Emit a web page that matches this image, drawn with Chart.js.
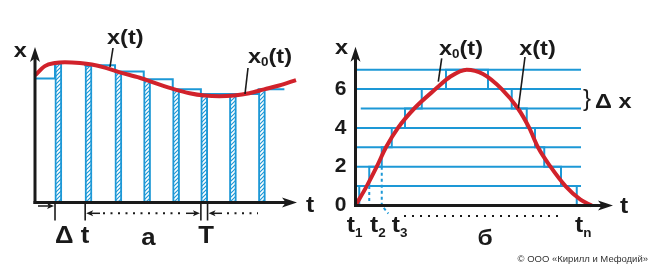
<!DOCTYPE html>
<html>
<head>
<meta charset="utf-8">
<script src="https://cdn.jsdelivr.net/npm/chart.js@4.4.1/dist/chart.umd.min.js"></script>
<style>
    html, body { margin: 0; background: #fff; }
    #wrap { position: relative; width: 654px; height: 269px; }
    #wrap canvas { position: absolute; left: 0; top: 0; }
</style>
</head>
<body>
<div id="wrap">
    <canvas id="chartA" width="654" height="269"></canvas>
    <canvas id="chartB" width="654" height="269"></canvas>
</div>
<script>
// --- panel а: sampling in time (pulse width dt, period T)
const sampleT = [6.9, 17.3, 27.6, 37.5, 47.5, 57.2, 67.1, 77.1];
const sampleX = [9.0, 8.85, 8.45, 7.95, 7.3, 7.0, 7.0, 7.3];
const pulseW = 2.3;
const holdStartX = 8.0;
const holdEndT = 86;
const curveAT = [0, 3.4, 6.9, 10.3, 15.5, 19.6, 24.1, 29.2, 36.1, 43, 48.1, 53.3, 58.4, 63.6, 68.7, 73.9, 79, 84.2, 90];
const curveAX = [8.2, 8.8, 9.0, 9.05, 9.0, 8.9, 8.7, 8.4, 8.05, 7.6, 7.3, 7.05, 6.9, 6.85, 6.9, 7.05, 7.3, 7.55, 7.9];

// --- panel б: quantization by level (step dx)
const levels = [1, 2, 3, 4, 5, 6, 7];
const levelStart = [0.5, 0.5, 0.5, 0.5, 2.1, 0.5, 0.5];
const levelEnd = 90.2;
const stairT = [0, 1.5, 5.5, 10.5, 14.5, 19.8, 26.5, 36.2, 53, 62.5, 68.5, 71.8, 75.5, 82.2, 88.5];
const stairX = [0, 1, 2, 3, 4, 5, 6, 7, 6, 5, 4, 3, 2, 1, 0];
const curveBT = [0, 4.5, 8.5, 12.2, 17, 23.5, 32, 38, 44.5, 51, 58.5, 65, 69.5, 73, 78, 84, 90, 94.5];
const curveBX = [0, 1, 2, 3, 4, 5, 6, 6.65, 7.0, 6.78, 6, 5, 4, 3, 2, 1, 0.3, 0];
const yTicksB = [0, 2, 4, 6];

const BLUE = '#1d98d6';
const RED = '#d1222b';
const INK = '#1a1a1a';
const FONT = '"Liberation Sans", Arial, sans-serif';

function makeHatch(ctx) {
    const c = document.createElement('canvas');
    c.width = 4; c.height = 4;
    const g = c.getContext('2d');
    g.fillStyle = '#fff';
    g.fillRect(0, 0, 4, 4);
    g.strokeStyle = BLUE;
    g.lineWidth = 1.2;
    g.beginPath();
    g.moveTo(0, 4); g.lineTo(4, 0);
    g.moveTo(-1, 1); g.lineTo(1, -1);
    g.moveTo(3, 5); g.lineTo(5, 3);
    g.stroke();
    return ctx.createPattern(c, 'repeat');
}

// parts: [text, size, dy]
function text(ctx, parts, x, y, opt = {}) {
    const sx = opt.sx ?? 1.12;
    const weight = opt.weight || 'bold';
    ctx.save();
    ctx.fillStyle = opt.color || INK;
    ctx.textBaseline = 'alphabetic';
    ctx.textAlign = 'left';
    let w = 0;
    parts.forEach(p => {
        ctx.font = `${weight} ${p[1]}px ${FONT}`;
        w += ctx.measureText(p[0]).width;
    });
    ctx.translate(x, y);
    ctx.scale(sx, 1);
    let cx = opt.align === 'left' ? 0 : (opt.align === 'right' ? -w : -w / 2);
    parts.forEach(p => {
        ctx.font = `${weight} ${p[1]}px ${FONT}`;
        ctx.fillText(p[0], cx, p[2] || 0);
        cx += ctx.measureText(p[0]).width;
    });
    ctx.restore();
}

function line(ctx, pts, color, width, dash) {
    ctx.save();
    ctx.strokeStyle = color;
    ctx.lineWidth = width;
    ctx.setLineDash(dash || []);
    ctx.beginPath();
    pts.forEach((p, i) => i ? ctx.lineTo(p[0], p[1]) : ctx.moveTo(p[0], p[1]));
    ctx.stroke();
    ctx.restore();
}

function arrow(ctx, x0, y0, x1, y1, lw, len, half) {
    const a = Math.atan2(y1 - y0, x1 - x0);
    const c = Math.cos(a), s = Math.sin(a);
    line(ctx, [[x0, y0], [x1 - len * 0.7 * c, y1 - len * 0.7 * s]], INK, lw);
    ctx.save();
    ctx.fillStyle = INK;
    ctx.beginPath();
    ctx.moveTo(x1, y1);
    ctx.lineTo(x1 - len * c + half * s, y1 - len * s - half * c);
    ctx.lineTo(x1 - len * 0.75 * c, y1 - len * 0.75 * s);
    ctx.lineTo(x1 - len * c - half * s, y1 - len * s + half * c);
    ctx.closePath();
    ctx.fill();
    ctx.restore();
}

function xLabel(sub) {
    return [['x', 21], [sub, 12, 3], ['(t)', 21]];
}

// ---------------- chart а ----------------
const ctxA = document.getElementById('chartA').getContext('2d');
const hatch = makeHatch(ctxA);

const holdPts = [{ x: 0, y: holdStartX }]
    .concat(sampleT.map((t, i) => ({ x: t, y: sampleX[i] })))
    .concat([{ x: holdEndT, y: sampleX[sampleX.length - 1] }]);

new Chart(ctxA, {
    type: 'line',
    data: {
        datasets: [
            {
                data: curveAT.map((t, i) => ({ x: t, y: curveAX[i] })),
                borderColor: RED,
                borderWidth: 4,
                pointRadius: 0,
                cubicInterpolationMode: 'monotone',
                clip: false,
                order: 0
            },
            {
                data: holdPts,
                borderColor: BLUE,
                borderWidth: 2,
                pointRadius: 0,
                stepped: true,
                clip: false,
                order: 1
            },
            {
                type: 'bar',
                data: sampleT.map((t, i) => ({ x: t + pulseW / 2, y: sampleX[i] })),
                backgroundColor: hatch,
                borderColor: BLUE,
                borderWidth: 2,
                borderSkipped: false,
                barThickness: 7,
                grouped: false,
                order: 2
            }
        ]
    },
    options: {
        responsive: false,
        animation: false,
        events: [],
        layout: { padding: { left: 35, right: 358, top: 47.5, bottom: 66.5 } },
        plugins: { legend: { display: false }, tooltip: { enabled: false } },
        scales: {
            x: { type: 'linear', min: 0, max: 90, offset: false, display: false },
            y: { type: 'linear', min: 0, max: 10, display: false }
        }
    },
    plugins: [{
        id: 'decorA',
        afterDatasetsDraw(chart) {
            const { ctx, scales: { x, y } } = chart;
            const X = v => x.getPixelForValue(v);
            const Y = v => y.getPixelForValue(v);
            const ox = X(0), oy = Y(0);

            arrow(ctx, ox, oy + 1.5, ox, 47, 3, 15, 5);
            arrow(ctx, ox - 1.5, oy, 297, oy, 3, 15, 5);

            // leaders
            line(ctx, [[113, 48], [110, 67]], INK, 1.6);
            line(ctx, [[248, 68], [245, 94]], INK, 1.6);

            // markers under the time axis
            const s1 = X(sampleT[0]), s2 = X(sampleT[1]);
            const s6 = X(sampleT[5]), e6 = X(sampleT[5] + pulseW);
            [s1, s2, s6, e6].forEach(px => line(ctx, [[px, oy], [px, oy + 18]], INK, 1.6));
            arrow(ctx, 38, 206, s1 - 1, 206, 1.5, 7, 3);
            arrow(ctx, 100, 213.3, s2 + 1, 213.3, 1.5, 7, 3);
            line(ctx, [[103, 213.3], [184, 213.3]], INK, 2, [2, 5.5]);
            arrow(ctx, 186, 213.3, s6 - 1, 213.3, 1.5, 7, 3);
            arrow(ctx, 222, 213.3, e6 + 1, 213.3, 1.5, 7, 3);
            line(ctx, [[227, 213.3], [258, 213.3]], INK, 2, [2, 5.5]);

            text(ctx, [['x', 21]], 20.3, 56.7);
            text(ctx, [['t', 22]], 310, 211.7);
            text(ctx, [['x(t)', 21]], 125.3, 44);
            text(ctx, xLabel('0'), 270, 63);
            text(ctx, [['Δ t', 23]], 55, 243.3, { align: 'left' });
            text(ctx, [['а', 23]], 148.3, 245);
            text(ctx, [['T', 23]], 206, 243.3);
        }
    }]
});

// ---------------- chart б ----------------
const ctxB = document.getElementById('chartB').getContext('2d');

const levelSets = levels.map((lv, i) => ({
    data: [{ x: levelStart[i], y: lv }, { x: levelEnd, y: lv }],
    borderColor: BLUE,
    borderWidth: 2,
    pointRadius: 0,
    clip: false,
    order: 3
}));

new Chart(ctxB, {
    type: 'line',
    data: {
        datasets: [
            {
                data: curveBT.map((t, i) => ({ x: t, y: curveBX[i] })),
                borderColor: RED,
                borderWidth: 4,
                pointRadius: 0,
                cubicInterpolationMode: 'monotone',
                clip: false,
                order: 0
            },
            {
                data: stairT.map((t, i) => ({ x: t, y: stairX[i] })),
                borderColor: BLUE,
                borderWidth: 2,
                pointRadius: 0,
                stepped: true,
                clip: false,
                order: 1
            }
        ].concat(levelSets)
    },
    options: {
        responsive: false,
        animation: false,
        events: [],
        layout: { padding: { left: 325.5, right: 48.5, top: 50.3, bottom: 63.5 } },
        plugins: { legend: { display: false }, tooltip: { enabled: false } },
        scales: {
            x: { type: 'linear', min: 0, max: 100, display: false },
            y: {
                type: 'linear', min: 0, max: 8,
                afterFit(scale) { scale.width = 30; },
                grid: { display: false, drawTicks: false },
                border: { display: false },
                ticks: {
                    stepSize: 2,
                    padding: 9,
                    color: INK,
                    font: { family: FONT, size: 21, weight: 'bold' },
                    callback: v => yTicksB.includes(v) ? String(v) : ''
                }
            }
        }
    },
    plugins: [{
        id: 'decorB',
        afterDatasetsDraw(chart) {
            const { ctx, scales: { x, y } } = chart;
            const X = v => x.getPixelForValue(v);
            const Y = v => y.getPixelForValue(v);
            const ox = X(0), oy = Y(0);

            // dotted guides at t2, t3
            const t2 = X(stairT[2]), t3 = X(stairT[3]);
            line(ctx, [[t2, Y(stairX[1])], [t2, oy]], BLUE, 2, [3, 3]);
            line(ctx, [[t3, Y(stairX[2])], [t3, oy], [t3 + 6.6, oy + 8]], BLUE, 2, [3, 3]);
            line(ctx, [[404, 216], [562, 216]], INK, 2, [2, 6]);

            arrow(ctx, ox, oy + 1.5, ox, 46.7, 3, 15, 5);
            arrow(ctx, ox - 1.5, oy, 613, oy, 3, 15, 5);

            // leaders
            line(ctx, [[441.7, 58.3], [438.3, 81.7]], INK, 1.6);
            line(ctx, [[525, 57], [518.3, 108.3]], INK, 1.6);

            text(ctx, [['x', 21]], 341.5, 53.5);
            text(ctx, [['t', 22]], 624, 213);
            text(ctx, xLabel('0'), 461, 55);
            text(ctx, [['x(t)', 21]], 537.5, 55);
            text(ctx, [['}', 24]], 587, 106, { weight: 'normal', sx: 1 });
            text(ctx, [['Δ x', 21]], 595, 108.3, { align: 'left' });

            const tl = [['1', 346.7], ['2', 370], ['3', 391.7], ['n', 575]];
            tl.forEach(([s, px]) => text(ctx, [['t', 22], [s, 12, 5]], px, 231.7, { align: 'left' }));
            text(ctx, [['б', 22]], 485, 245);
            text(ctx, [['© ООО «Кирилл и Мефодий»', 9.5]], 648, 262,
                { align: 'right', weight: 'normal', sx: 1, color: '#333' });
        }
    }]
});
</script>
</body>
</html>
